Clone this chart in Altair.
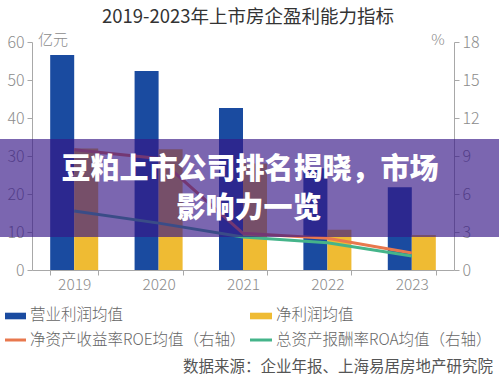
import altair as alt
import pandas as pd

years = ["2019", "2020", "2021", "2022", "2023"]
bar_series = ["营业利润均值", "净利润均值"]
op_profit = [56.6, 52.4, 42.6, 26.8, 21.8]
net_profit = [32.0, 31.8, 28.0, 10.6, 9.2]
line_series = ["净资产收益率ROE均值（右轴）", "总资产报酬率ROA均值（右轴）"]
roe = [9.5, 8.8, 2.9, 2.5, 1.35]
roa = [4.65, 3.7, 2.6, 2.15, 1.1]
left_ticks = [0, 10, 20, 30, 40, 50, 60]
right_ticks = [0, 3, 6, 9, 12, 15, 18]
title_text = "2019-2023年上市房企盈利能力指标"
left_unit = "亿元"
right_unit = "%"
banner_lines = ["豆粕上市公司排名揭晓，市场", "影响力一览"]
source_text = "数据来源：企业年报、上海易居房地产研究院"

all_series = bar_series + line_series
all_colors = ["#1a4ba0", "#efbb33", "#e8784e", "#45b48a"]

FONT = "Noto Sans CJK SC"
GREY = "#a8a8a8"
LABEL = "#8c8c8c"

bars_df = pd.DataFrame({
    "year": years * 2,
    "series": [bar_series[0]] * 5 + [bar_series[1]] * 5,
    "value": op_profit + net_profit,
})
lines_df = pd.DataFrame({
    "year": years * 2,
    "series": [line_series[0]] * 5 + [line_series[1]] * 5,
    "value": roe + roa,
})
one = pd.DataFrame({"k": [0]})

color_scale = alt.Scale(domain=all_series, range=all_colors)
x_enc = alt.X("year:N", sort=years,
              scale=alt.Scale(paddingInner=0.431, paddingOuter=0.2155),
              axis=alt.Axis(title=None, labelAngle=0, tickBand="extent", tickSize=5,
                            domainColor=GREY, tickColor=GREY, labelColor=LABEL,
                            labelFont=FONT, labelFontSize=15.5, labelPadding=2,
                            labelFontWeight=300))

bars = alt.Chart(bars_df).mark_bar().encode(
    x=x_enc,
    xOffset=alt.XOffset("series:N", sort=bar_series,
                        scale=alt.Scale(paddingInner=0, paddingOuter=0)),
    y=alt.Y("value:Q", scale=alt.Scale(domain=[0, 60], nice=False),
            axis=alt.Axis(title=None, values=left_ticks, grid=False, orient="left",
                          domainColor=GREY, tickColor=GREY, tickSize=5,
                          labelColor=LABEL, labelFont=FONT, labelFontSize=16,
                          labelPadding=3, labelFontWeight=300)),
    color=alt.Color("series:N", scale=color_scale, legend=None),
)

lines = alt.Chart(lines_df).mark_line(strokeWidth=3).encode(
    x=alt.X("year:N", sort=years),
    y=alt.Y("value:Q", scale=alt.Scale(domain=[0, 18], nice=False),
            axis=alt.Axis(title=None, values=right_ticks, grid=False, orient="right",
                          domainColor=GREY, tickColor=GREY, tickSize=5,
                          labelColor=LABEL, labelFont=FONT, labelFontSize=16,
                          labelPadding=3, labelFontWeight=300)),
    color=alt.Color("series:N", scale=color_scale, legend=None),
    detail="series:N",
)

def txt(text, x, y, size, color, align="left", weight=400, baseline="middle"):
    return alt.Chart(one).mark_text(
        text=text, font=FONT, fontSize=size, color=color, align=align,
        baseline=baseline, fontWeight=weight
    ).encode(x=alt.value(x), y=alt.value(y))

title = txt(title_text, 216, -25, 18.5, "#333333", align="center")
unit_l = txt(left_unit, 6, -2.5, 15, LABEL, weight=300)
unit_r = txt(right_unit, 406, -2, 15, LABEL, align="center", weight=300)

# legend
leg_blue = alt.Chart(one).mark_rect(color=all_colors[0]).encode(
    x=alt.value(-27), x2=alt.value(-6), y=alt.value(270.7), y2=alt.value(277.3))
leg_yel = alt.Chart(one).mark_rect(color=all_colors[1]).encode(
    x=alt.value(218), x2=alt.value(240), y=alt.value(270.7), y2=alt.value(277.3))
leg_org = alt.Chart(one).mark_rule(color=all_colors[2], strokeWidth=3).encode(
    x=alt.value(-27), x2=alt.value(-6), y=alt.value(298))
leg_grn = alt.Chart(one).mark_rule(color=all_colors[3], strokeWidth=3).encode(
    x=alt.value(218), x2=alt.value(240), y=alt.value(298))
leg_t1 = txt(bar_series[0], -2, 272.5, 15.5, "#666666", weight=300)
leg_t2 = txt(bar_series[1], 244, 272.5, 15.5, "#666666", weight=300)
leg_t3 = txt(line_series[0], -2, 297.5, 15.5, "#666666", weight=300)
leg_t4 = txt(line_series[1], 244, 297.5, 15.5, "#666666", weight=300)
source = txt(source_text, 461, 325, 15.5, "#555555", align="right")

banner = alt.Chart(one).mark_rect(color="#351586", opacity=0.655).encode(
    x=alt.value(-32), x2=alt.value(467), y=alt.value(97), y2=alt.value(195))
ban_t1 = txt(banner_lines[0], 218, 127.5, 29, "#ffffff", align="center", weight=900)
ban_t2 = txt(banner_lines[1], 217, 166.5, 29, "#ffffff", align="center", weight=900)

chart = alt.layer(
    bars, lines, title, unit_l, unit_r,
    leg_blue, leg_yel, leg_org, leg_grn, leg_t1, leg_t2, leg_t3, leg_t4, source,
    banner, ban_t1, ban_t2,
).resolve_scale(y="independent").properties(
    width=422, height=228,
    padding={"left": 32, "top": 42, "right": 45, "bottom": 107},
    autosize=alt.AutoSizeParams(type="none"),
    background="#ffffff",
).configure_view(stroke=None)

chart.save("out.html", embed_options={"renderer": "svg", "actions": False})
